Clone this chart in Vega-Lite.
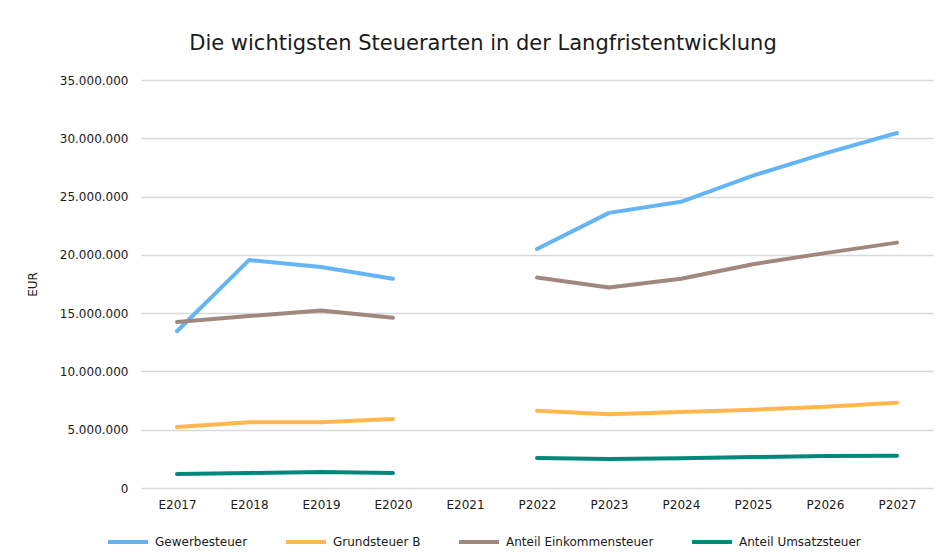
{
  "$schema": "https://vega.github.io/schema/vega-lite/v6.json",
  "width": 792,
  "height": 408,
  "autosize": "none",
  "padding": {"left": 141, "top": 80, "right": 9, "bottom": 71},
  "background": "white",
  "title": {
    "text": "Die wichtigsten Steuerarten in der Langfristentwicklung",
    "font": "DejaVu Sans",
    "fontSize": 21,
    "fontWeight": "normal",
    "color": "#1a1a1a",
    "anchor": "middle",
    "dx": -54,
    "offset": 20
  },
  "config": {
    "view": {"stroke": null},
    "font": "DejaVu Sans"
  },
  "data": {
    "values": [
      {"series": "Gewerbesteuer", "year": "E2017", "phase": "E", "value": 13450000},
      {"series": "Gewerbesteuer", "year": "E2018", "phase": "E", "value": 19550000},
      {"series": "Gewerbesteuer", "year": "E2019", "phase": "E", "value": 18960000},
      {"series": "Gewerbesteuer", "year": "E2020", "phase": "E", "value": 17950000},
      {"series": "Gewerbesteuer", "year": "P2022", "phase": "P", "value": 20500000},
      {"series": "Gewerbesteuer", "year": "P2023", "phase": "P", "value": 23600000},
      {"series": "Gewerbesteuer", "year": "P2024", "phase": "P", "value": 24550000},
      {"series": "Gewerbesteuer", "year": "P2025", "phase": "P", "value": 26800000},
      {"series": "Gewerbesteuer", "year": "P2026", "phase": "P", "value": 28700000},
      {"series": "Gewerbesteuer", "year": "P2027", "phase": "P", "value": 30450000},
      {"series": "Grundsteuer B", "year": "E2017", "phase": "E", "value": 5230000},
      {"series": "Grundsteuer B", "year": "E2018", "phase": "E", "value": 5640000},
      {"series": "Grundsteuer B", "year": "E2019", "phase": "E", "value": 5650000},
      {"series": "Grundsteuer B", "year": "E2020", "phase": "E", "value": 5920000},
      {"series": "Grundsteuer B", "year": "P2022", "phase": "P", "value": 6620000},
      {"series": "Grundsteuer B", "year": "P2023", "phase": "P", "value": 6330000},
      {"series": "Grundsteuer B", "year": "P2024", "phase": "P", "value": 6520000},
      {"series": "Grundsteuer B", "year": "P2025", "phase": "P", "value": 6720000},
      {"series": "Grundsteuer B", "year": "P2026", "phase": "P", "value": 6970000},
      {"series": "Grundsteuer B", "year": "P2027", "phase": "P", "value": 7320000},
      {"series": "Anteil Einkommensteuer", "year": "E2017", "phase": "E", "value": 14250000},
      {"series": "Anteil Einkommensteuer", "year": "E2018", "phase": "E", "value": 14750000},
      {"series": "Anteil Einkommensteuer", "year": "E2019", "phase": "E", "value": 15230000},
      {"series": "Anteil Einkommensteuer", "year": "E2020", "phase": "E", "value": 14600000},
      {"series": "Anteil Einkommensteuer", "year": "P2022", "phase": "P", "value": 18050000},
      {"series": "Anteil Einkommensteuer", "year": "P2023", "phase": "P", "value": 17200000},
      {"series": "Anteil Einkommensteuer", "year": "P2024", "phase": "P", "value": 17950000},
      {"series": "Anteil Einkommensteuer", "year": "P2025", "phase": "P", "value": 19200000},
      {"series": "Anteil Einkommensteuer", "year": "P2026", "phase": "P", "value": 20150000},
      {"series": "Anteil Einkommensteuer", "year": "P2027", "phase": "P", "value": 21050000},
      {"series": "Anteil Umsatzsteuer", "year": "E2017", "phase": "E", "value": 1200000},
      {"series": "Anteil Umsatzsteuer", "year": "E2018", "phase": "E", "value": 1290000},
      {"series": "Anteil Umsatzsteuer", "year": "E2019", "phase": "E", "value": 1370000},
      {"series": "Anteil Umsatzsteuer", "year": "E2020", "phase": "E", "value": 1290000},
      {"series": "Anteil Umsatzsteuer", "year": "P2022", "phase": "P", "value": 2570000},
      {"series": "Anteil Umsatzsteuer", "year": "P2023", "phase": "P", "value": 2490000},
      {"series": "Anteil Umsatzsteuer", "year": "P2024", "phase": "P", "value": 2560000},
      {"series": "Anteil Umsatzsteuer", "year": "P2025", "phase": "P", "value": 2650000},
      {"series": "Anteil Umsatzsteuer", "year": "P2026", "phase": "P", "value": 2740000},
      {"series": "Anteil Umsatzsteuer", "year": "P2027", "phase": "P", "value": 2760000}
    ]
  },
  "mark": {"type": "line", "strokeWidth": 4, "strokeCap": "round", "strokeJoin": "round"},
  "encoding": {
    "x": {
      "field": "year",
      "type": "ordinal",
      "sort": null,
      "scale": {
        "type": "point",
        "padding": 0.5,
        "domain": ["E2017", "E2018", "E2019", "E2020", "E2021", "P2022", "P2023", "P2024", "P2025", "P2026", "P2027"]
      },
      "axis": {
        "title": null,
        "labelAngle": 0,
        "labelFontSize": 12,
        "labelColor": "#1a1a1a",
        "labelPadding": 11,
        "ticks": false,
        "domain": false,
        "grid": false
      }
    },
    "y": {
      "field": "value",
      "type": "quantitative",
      "scale": {"domain": [0, 35000000], "nice": false},
      "axis": {
        "title": "EUR",
        "titleFontSize": 12,
        "titleFontWeight": "normal",
        "titleColor": "#1a1a1a",
        "titlePadding": 20,
        "values": [0, 5000000, 10000000, 15000000, 20000000, 25000000, 30000000, 35000000],
        "labelExpr": "replace(format(datum.value, ',d'), /,/g, '.')",
        "labelFontSize": 12,
        "labelColor": "#1a1a1a",
        "labelPadding": 13,
        "ticks": false,
        "domain": false,
        "grid": true,
        "gridColor": "#d9d9d9",
        "gridWidth": 1.5
      }
    },
    "color": {
      "field": "series",
      "type": "nominal",
      "scale": {
        "domain": ["Gewerbesteuer", "Grundsteuer B", "Anteil Einkommensteuer", "Anteil Umsatzsteuer"],
        "range": ["#64b5f6", "#ffb74d", "#a1887f", "#00897b"]
      },
      "legend": {
        "title": null,
        "orient": "none",
        "direction": "horizontal",
        "legendX": -35,
        "legendY": 440,
        "symbolType": "stroke",
        "symbolSize": 1600,
        "symbolStrokeWidth": 4,
        "labelFontSize": 12,
        "labelColor": "#1a1a1a",
        "labelOffset": 5,
        "columnPadding": 30
      }
    },
    "detail": {"field": "phase", "type": "nominal"}
  }
}
